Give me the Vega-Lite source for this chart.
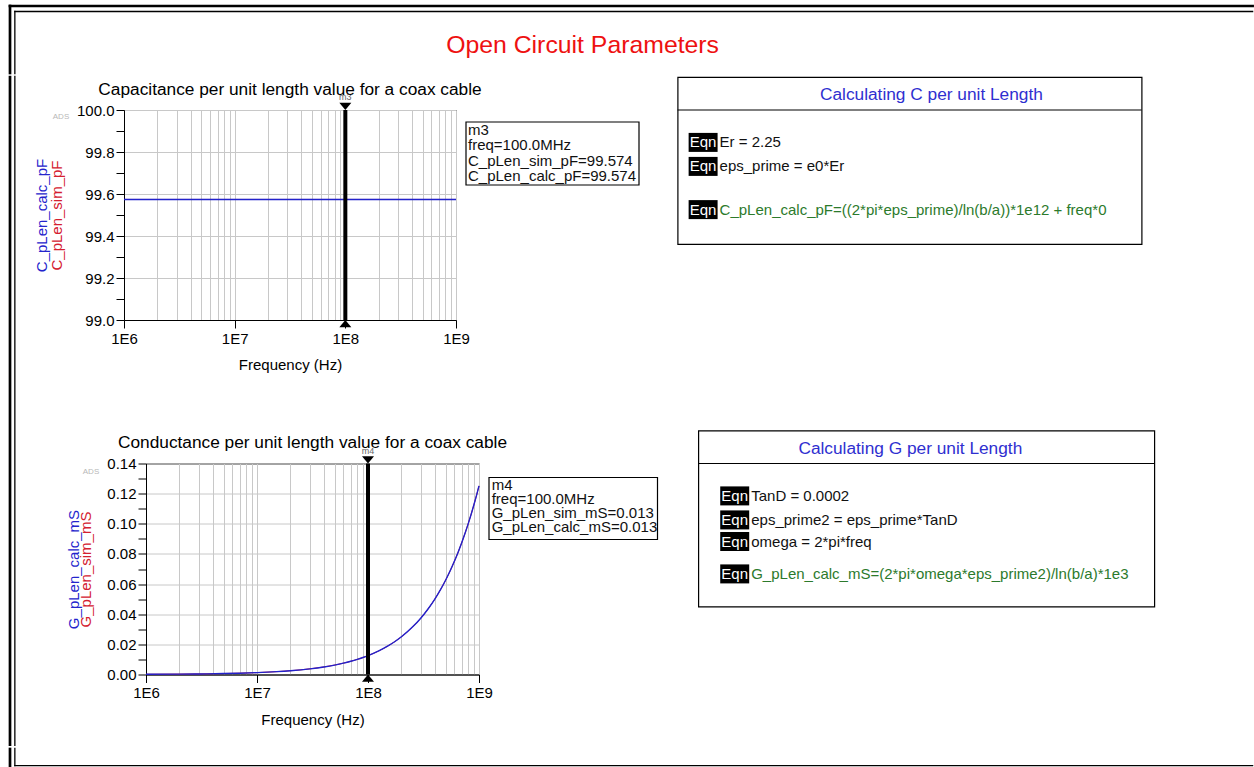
{
  "$schema": "https://vega.github.io/schema/vega-lite/v6.json",
  "background": "white",
  "padding": {"left": 8, "top": 4, "right": 0, "bottom": 0},
  "config": {
    "font": "Liberation Sans",
    "view": {"stroke": null},
    "axis": {"labelFont": "Liberation Sans", "titleFont": "Liberation Sans", "labelFontSize": 15, "titleFontSize": 15, "titleFontWeight": "normal", "labelColor": "black", "titleColor": "black", "domainColor": "black", "tickColor": "black", "gridColor": "#c8c8c8", "gridWidth": 1, "labelFlush": false, "labelOverlap": false, "tickSize": 8},
    "title": {"font": "Liberation Sans", "fontSize": 17.3, "fontWeight": "normal", "color": "black"},
    "text": {"font": "Liberation Sans"}
  },
  "datasets": {
    "cap": [
      {"freq": 1000000, "C_pLen_sim_pF": 99.574, "C_pLen_calc_pF": 99.574},
      {"freq": 3000000, "C_pLen_sim_pF": 99.574, "C_pLen_calc_pF": 99.574},
      {"freq": 10000000, "C_pLen_sim_pF": 99.574, "C_pLen_calc_pF": 99.574},
      {"freq": 30000000, "C_pLen_sim_pF": 99.574, "C_pLen_calc_pF": 99.574},
      {"freq": 100000000, "C_pLen_sim_pF": 99.574, "C_pLen_calc_pF": 99.574},
      {"freq": 300000000, "C_pLen_sim_pF": 99.574, "C_pLen_calc_pF": 99.574},
      {"freq": 1000000000, "C_pLen_sim_pF": 99.574, "C_pLen_calc_pF": 99.574}
    ],
    "cond": [
      {"freq": 1000000, "G_pLen_sim_mS": 0.000125, "G_pLen_calc_mS": 0.000125},
      {"freq": 2000000, "G_pLen_sim_mS": 0.00025, "G_pLen_calc_mS": 0.00025},
      {"freq": 3000000, "G_pLen_sim_mS": 0.000375, "G_pLen_calc_mS": 0.000375},
      {"freq": 5000000, "G_pLen_sim_mS": 0.000626, "G_pLen_calc_mS": 0.000626},
      {"freq": 7000000, "G_pLen_sim_mS": 0.000876, "G_pLen_calc_mS": 0.000876},
      {"freq": 10000000, "G_pLen_sim_mS": 0.001251, "G_pLen_calc_mS": 0.001251},
      {"freq": 15000000, "G_pLen_sim_mS": 0.001877, "G_pLen_calc_mS": 0.001877},
      {"freq": 20000000, "G_pLen_sim_mS": 0.002503, "G_pLen_calc_mS": 0.002503},
      {"freq": 30000000, "G_pLen_sim_mS": 0.003754, "G_pLen_calc_mS": 0.003754},
      {"freq": 40000000, "G_pLen_sim_mS": 0.005005, "G_pLen_calc_mS": 0.005005},
      {"freq": 50000000, "G_pLen_sim_mS": 0.006257, "G_pLen_calc_mS": 0.006257},
      {"freq": 60000000, "G_pLen_sim_mS": 0.007508, "G_pLen_calc_mS": 0.007508},
      {"freq": 70000000, "G_pLen_sim_mS": 0.008759, "G_pLen_calc_mS": 0.008759},
      {"freq": 80000000, "G_pLen_sim_mS": 0.01001, "G_pLen_calc_mS": 0.01001},
      {"freq": 90000000, "G_pLen_sim_mS": 0.011262, "G_pLen_calc_mS": 0.011262},
      {"freq": 100000000, "G_pLen_sim_mS": 0.012513, "G_pLen_calc_mS": 0.012513},
      {"freq": 125000000, "G_pLen_sim_mS": 0.015641, "G_pLen_calc_mS": 0.015641},
      {"freq": 150000000, "G_pLen_sim_mS": 0.01877, "G_pLen_calc_mS": 0.01877},
      {"freq": 175000000, "G_pLen_sim_mS": 0.021898, "G_pLen_calc_mS": 0.021898},
      {"freq": 200000000, "G_pLen_sim_mS": 0.025026, "G_pLen_calc_mS": 0.025026},
      {"freq": 250000000, "G_pLen_sim_mS": 0.031283, "G_pLen_calc_mS": 0.031283},
      {"freq": 300000000, "G_pLen_sim_mS": 0.037539, "G_pLen_calc_mS": 0.037539},
      {"freq": 350000000, "G_pLen_sim_mS": 0.043796, "G_pLen_calc_mS": 0.043796},
      {"freq": 400000000, "G_pLen_sim_mS": 0.050052, "G_pLen_calc_mS": 0.050052},
      {"freq": 450000000, "G_pLen_sim_mS": 0.056309, "G_pLen_calc_mS": 0.056309},
      {"freq": 500000000, "G_pLen_sim_mS": 0.062565, "G_pLen_calc_mS": 0.062565},
      {"freq": 550000000, "G_pLen_sim_mS": 0.068822, "G_pLen_calc_mS": 0.068822},
      {"freq": 600000000, "G_pLen_sim_mS": 0.075078, "G_pLen_calc_mS": 0.075078},
      {"freq": 650000000, "G_pLen_sim_mS": 0.081335, "G_pLen_calc_mS": 0.081335},
      {"freq": 700000000, "G_pLen_sim_mS": 0.087591, "G_pLen_calc_mS": 0.087591},
      {"freq": 750000000, "G_pLen_sim_mS": 0.093848, "G_pLen_calc_mS": 0.093848},
      {"freq": 800000000, "G_pLen_sim_mS": 0.100104, "G_pLen_calc_mS": 0.100104},
      {"freq": 850000000, "G_pLen_sim_mS": 0.106361, "G_pLen_calc_mS": 0.106361},
      {"freq": 900000000, "G_pLen_sim_mS": 0.112617, "G_pLen_calc_mS": 0.112617},
      {"freq": 950000000, "G_pLen_sim_mS": 0.118874, "G_pLen_calc_mS": 0.118874},
      {"freq": 1000000000, "G_pLen_sim_mS": 0.12513, "G_pLen_calc_mS": 0.12513}
    ],
    "eqnC": [
      {"line": 1, "expr": "Er = 2.25", "kind": "definition"},
      {"line": 2, "expr": "eps_prime = e0*Er", "kind": "definition"},
      {"line": 3.8, "expr": "C_pLen_calc_pF=((2*pi*eps_prime)/ln(b/a))*1e12 + freq*0", "kind": "result"}
    ],
    "eqnG": [
      {"line": 1, "expr": "TanD = 0.0002", "kind": "definition"},
      {"line": 2, "expr": "eps_prime2 = eps_prime*TanD", "kind": "definition"},
      {"line": 2.9, "expr": "omega = 2*pi*freq", "kind": "definition"},
      {"line": 4.25, "expr": "G_pLen_calc_mS=(2*pi*omega*eps_prime2)/ln(b/a)*1e3", "kind": "result"}
    ],
    "mk3": [{"marker": "m3", "freq": 100000000, "readout": "m3\nfreq=100.0MHz\nC_pLen_sim_pF=99.574\nC_pLen_calc_pF=99.574"}],
    "mk4": [{"marker": "m4", "freq": 100000000, "readout": "m4\nfreq=100.0MHz\nG_pLen_sim_mS=0.013\nG_pLen_calc_mS=0.013"}],
    "one": [{"wm": "ADS"}]
  },
  "spacing": 0,
  "vconcat": [
    {
      "width": 1242.6, "height": 67,
      "layer": [
        {"data": {"name": "one"}, "mark": {"type": "rule", "color": "black", "strokeWidth": 2.7, "strokeCap": "square"},
         "encoding": {"y": {"datum": 1, "type": "quantitative", "scale": {"domain": [0, 1], "nice": false, "zero": false}, "axis": null}}},
        {"data": {"name": "one"}, "mark": {"type": "rule", "color": "black", "strokeWidth": 2.7, "strokeCap": "square"},
         "encoding": {"x": {"datum": 0, "type": "quantitative", "scale": {"domain": [0, 1], "nice": false, "zero": false}, "axis": null}}},
        {"data": {"name": "one"}, "mark": {"type": "rule", "color": "black", "strokeWidth": 1.3, "strokeCap": "square"},
         "encoding": {"x": {"datum": 0.0039, "type": "quantitative", "scale": {"domain": [0, 1], "nice": false, "zero": false}, "axis": null},
                      "x2": {"datum": 1},
                      "y": {"datum": 0.918, "type": "quantitative", "scale": {"domain": [0, 1], "nice": false, "zero": false}, "axis": null}}},
        {"data": {"name": "one"}, "mark": {"type": "rule", "color": "black", "strokeWidth": 1.3, "strokeCap": "square"},
         "encoding": {"x": {"datum": 0.0039, "type": "quantitative", "scale": {"domain": [0, 1], "nice": false, "zero": false}, "axis": null},
                      "y": {"datum": 0.918, "type": "quantitative", "scale": {"domain": [0, 1], "nice": false, "zero": false}, "axis": null},
                      "y2": {"datum": -0.0104}}},
        {"data": {"values": [{"title": "Open Circuit Parameters"}]}, "mark": {"type": "text", "fontSize": 24.8, "color": "#ee1111", "align": "center", "baseline": "middle"},
         "encoding": {"text": {"field": "title"},
                      "x": {"datum": 0.4608, "type": "quantitative", "scale": {"domain": [0, 1], "nice": false, "zero": false}, "axis": null},
                      "y": {"datum": 0.3963, "type": "quantitative", "scale": {"domain": [0, 1], "nice": false, "zero": false}, "axis": null}}}
      ]
    },
    {
      "spacing": 0,
      "hconcat": [
        {
          "width": 21, "height": 667.6,
          "layer": [
            {"data": {"name": "one"}, "mark": {"type": "rule", "color": "black", "strokeWidth": 2.7, "strokeCap": "square"},
             "encoding": {"x": {"datum": 0, "type": "quantitative", "scale": {"domain": [0, 1], "nice": false, "zero": false}, "axis": null}}},
            {"data": {"name": "one"}, "mark": {"type": "rule", "color": "black", "strokeWidth": 1.3, "strokeCap": "square"},
             "encoding": {"x": {"datum": 0.231, "type": "quantitative", "scale": {"domain": [0, 1], "nice": false, "zero": false}, "axis": null},
                          "y": {"datum": 1.00105, "type": "quantitative", "scale": {"domain": [0, 1], "nice": false, "zero": false}, "axis": null},
                          "y2": {"datum": -0.00105}}}
          ]
        },
        {
          "spacing": 56.5,
          "vconcat": [
            {
              "spacing": 0,
              "hconcat": [
                {"width": 1.2, "height": 1, "data": {"values": []}, "mark": "text", "encoding": {}},
                {
                  "spacing": 33.6,
                  "hconcat": [
                    {
                      "spacing": 0,
                      "vconcat": [
                        {"width": 1, "height": 2.3, "data": {"values": []}, "mark": "text", "encoding": {}},
                        {
                          "width": 332, "height": 210,
                          "view": {"stroke": "black"},
                          "title": {"text": "Capacitance per unit length value for a coax cable", "frame": "group", "anchor": "middle", "baseline": "alphabetic", "offset": -19.1},
                          "resolve": {"axis": {"y": "independent"}},
                          "layer": [
                            {
                              "data": {"name": "cap"},
                              "mark": {"type": "line", "color": "#d42030", "strokeWidth": 1},
                              "encoding": {
                                "x": {"field": "freq", "type": "quantitative", "scale": {"type": "log", "domain": [1000000, 1000000000], "nice": false},
                                      "axis": {"values": [1000000,2000000,3000000,4000000,5000000,6000000,7000000,8000000,9000000,10000000,20000000,30000000,40000000,50000000,60000000,70000000,80000000,90000000,100000000,200000000,300000000,400000000,500000000,600000000,700000000,800000000,900000000,1000000000],
                                               "labelExpr": "abs(log(datum.value)/LN10 - round(log(datum.value)/LN10)) < 0.001 ? '1E' + round(log(datum.value)/LN10) : ''",
                                               "tickOpacity": {"condition": {"test": "abs(log(datum.value)/LN10 - round(log(datum.value)/LN10)) < 0.001", "value": 1}, "value": 0},
                                               "grid": true, "title": "Frequency (Hz)", "labelPadding": 3, "titlePadding": 11.5}},
                                "y": {"field": "C_pLen_sim_pF", "type": "quantitative", "scale": {"domain": [99, 100], "nice": false, "zero": false},
                                      "axis": {"orient": "left", "labels": false, "ticks": false, "domain": false, "grid": false, "title": "C_pLen_sim_pF", "titleColor": "#d42030", "titleAngle": 270, "titleX": -60, "titleY": 105, "titleAlign": "center", "titleBaseline": "bottom"}}
                              }
                            },
                            {
                              "data": {"name": "cap"},
                              "mark": {"type": "line", "color": "#2222cc", "strokeWidth": 1.4},
                              "encoding": {
                                "x": {"field": "freq", "type": "quantitative", "scale": {"type": "log", "domain": [1000000, 1000000000], "nice": false}},
                                "y": {"field": "C_pLen_calc_pF", "type": "quantitative", "scale": {"domain": [99, 100], "nice": false, "zero": false},
                                      "axis": {"orient": "left", "values": [99, 99.1, 99.2, 99.3, 99.4, 99.5, 99.6, 99.7, 99.8, 99.9, 100],
                                               "labelExpr": "round(datum.value*10) % 2 == 0 ? format(datum.value, '.1f') : ''",
                                               "grid": true, "gridOpacity": {"condition": {"test": "round(datum.value*10) % 2 == 1", "value": 0}, "value": 1},
                                               "labelPadding": 2,
                                               "title": "C_pLen_calc_pF", "titleColor": "#2424cc", "titleAngle": 270, "titleX": -75, "titleY": 105, "titleAlign": "center", "titleBaseline": "bottom"}}
                              }
                            },
                            {
                              "data": {"name": "mk3"},
                              "mark": {"type": "rule", "color": "black", "strokeWidth": 4},
                              "encoding": {"x": {"field": "freq", "type": "quantitative", "scale": {"type": "log", "domain": [1000000, 1000000000], "nice": false}}}
                            },
                            {
                              "data": {"name": "mk3"},
                              "mark": {"type": "point", "shape": "M-1,-1.2L1,-1.2L0,0Z", "filled": true, "color": "black", "opacity": 1, "size": 144, "strokeWidth": 0},
                              "encoding": {"x": {"field": "freq", "type": "quantitative", "scale": {"type": "log", "domain": [1000000, 1000000000], "nice": false}},
                                           "y": {"datum": 100, "type": "quantitative", "scale": {"domain": [99, 100], "nice": false, "zero": false}, "axis": null}}
                            },
                            {
                              "data": {"name": "mk3"},
                              "mark": {"type": "point", "shape": "M-1,1.2L1,1.2L0,0Z", "filled": true, "color": "black", "opacity": 1, "size": 144, "strokeWidth": 0},
                              "encoding": {"x": {"field": "freq", "type": "quantitative", "scale": {"type": "log", "domain": [1000000, 1000000000], "nice": false}},
                                           "y": {"datum": 99, "type": "quantitative", "scale": {"domain": [99, 100], "nice": false, "zero": false}, "axis": null}}
                            },
                            {
                              "data": {"name": "mk3"},
                              "mark": {"type": "text", "fontSize": 9, "color": "#666666", "dy": -13, "baseline": "middle", "align": "center"},
                              "encoding": {"text": {"field": "marker"},
                                           "x": {"field": "freq", "type": "quantitative", "scale": {"type": "log", "domain": [1000000, 1000000000], "nice": false}},
                                           "y": {"datum": 100, "type": "quantitative", "scale": {"domain": [99, 100], "nice": false, "zero": false}, "axis": null}}
                            },
                            {
                              "data": {"name": "mk3"},
                              "mark": {"type": "point", "shape": "M1,1.2L18.3,1.2L18.3,7.5L1,7.5Z", "filled": false, "stroke": "black", "strokeWidth": 1.2, "opacity": 1, "size": 400},
                              "encoding": {"x": {"datum": 1000000000, "type": "quantitative", "scale": {"type": "log", "domain": [1000000, 1000000000], "nice": false}},
                                           "y": {"datum": 100, "type": "quantitative", "scale": {"domain": [99, 100], "nice": false, "zero": false}, "axis": null}}
                            },
                            {
                              "data": {"name": "mk3"},
                              "mark": {"type": "text", "fontSize": 15, "color": "#111111", "align": "left", "baseline": "alphabetic", "lineBreak": "\n", "lineHeight": 15.5, "dx": 12, "dy": 24.9},
                              "encoding": {"text": {"field": "readout"},
                                           "x": {"datum": 1000000000, "type": "quantitative", "scale": {"type": "log", "domain": [1000000, 1000000000], "nice": false}},
                                           "y": {"datum": 100, "type": "quantitative", "scale": {"domain": [99, 100], "nice": false, "zero": false}, "axis": null}}
                            },
                            {
                              "data": {"name": "one"},
                              "mark": {"type": "text", "fontSize": 8, "color": "#b8b8b8", "dx": -63, "dy": 7, "baseline": "middle", "align": "center"},
                              "encoding": {"text": {"field": "wm"},
                                           "x": {"datum": 1000000, "type": "quantitative", "scale": {"type": "log", "domain": [1000000, 1000000000], "nice": false}},
                                           "y": {"datum": 100, "type": "quantitative", "scale": {"domain": [99, 100], "nice": false, "zero": false}, "axis": null}}
                            }
                          ]
                        }
                      ]
                    },
                    {
                      "width": 464, "height": 167,
                      "view": {"stroke": "black", "strokeWidth": 1.2},
                      "layer": [
                        {"data": {"values": [{"header": "Calculating C per unit Length"}]},
                         "mark": {"type": "text", "fontSize": 17.3, "color": "#2f2fd0", "align": "center", "baseline": "middle"},
                         "encoding": {"text": {"field": "header"},
                                      "x": {"datum": 54.7, "type": "quantitative", "scale": {"domain": [0, 100], "nice": false, "zero": false}, "axis": null},
                                      "y": {"datum": -0.975, "type": "quantitative", "scale": {"domain": [-1.725, 5.233], "nice": false, "zero": false, "reverse": true}, "axis": null}}},
                        {"data": {"name": "one"},
                         "mark": {"type": "rule", "color": "black", "strokeWidth": 1.2},
                         "encoding": {"y": {"datum": -0.35, "type": "quantitative", "scale": {"domain": [-1.725, 5.233], "nice": false, "zero": false, "reverse": true}, "axis": null}}},
                        {"data": {"name": "eqnC"},
                         "mark": {"type": "point", "shape": "M-3.26,-1L-0.21,-1L-0.21,1L-3.26,1Z", "filled": true, "color": "black", "opacity": 1, "size": 361, "strokeWidth": 0},
                         "encoding": {"x": {"datum": 9.05, "type": "quantitative", "scale": {"domain": [0, 100], "nice": false, "zero": false}, "axis": null},
                                      "y": {"field": "line", "type": "quantitative", "scale": {"domain": [-1.725, 5.233], "nice": false, "zero": false, "reverse": true}, "axis": null}}},
                        {"data": {"name": "eqnC"},
                         "mark": {"type": "text", "text": "Eqn", "fontSize": 15, "color": "white", "align": "center", "baseline": "middle", "dx": -16.5},
                         "encoding": {"x": {"datum": 9.05, "type": "quantitative", "scale": {"domain": [0, 100], "nice": false, "zero": false}, "axis": null},
                                      "y": {"field": "line", "type": "quantitative", "scale": {"domain": [-1.725, 5.233], "nice": false, "zero": false, "reverse": true}, "axis": null}}},
                        {"data": {"name": "eqnC"},
                         "mark": {"type": "text", "fontSize": 15, "align": "left", "baseline": "middle"},
                         "encoding": {"text": {"field": "expr"},
                                      "color": {"field": "kind", "type": "nominal", "scale": {"domain": ["definition", "result"], "range": ["#111111", "#2c7a2c"]}, "legend": null},
                                      "x": {"datum": 9.05, "type": "quantitative", "scale": {"domain": [0, 100], "nice": false, "zero": false}, "axis": null},
                                      "y": {"field": "line", "type": "quantitative", "scale": {"domain": [-1.725, 5.233], "nice": false, "zero": false, "reverse": true}, "axis": null}}}
                      ]
                    }
                  ]
                }
              ]
            },
            {
              "spacing": 0,
              "hconcat": [
                {"width": 34.7, "height": 1, "data": {"values": []}, "mark": "text", "encoding": {}},
                {
                  "spacing": 35.3,
                  "hconcat": [
                    {
                      "spacing": 0,
                      "vconcat": [
                        {"width": 1, "height": 2.5, "data": {"values": []}, "mark": "text", "encoding": {}},
                        {
                          "width": 333, "height": 211,
                          "view": {"stroke": "black"},
                          "title": {"text": "Conductance per unit length value for a coax cable", "frame": "group", "anchor": "middle", "baseline": "alphabetic", "offset": -19.1},
                          "resolve": {"axis": {"y": "independent"}},
                          "layer": [
                            {
                              "data": {"name": "cond"},
                              "mark": {"type": "line", "color": "#d42030", "strokeWidth": 1, "interpolate": "monotone"},
                              "encoding": {
                                "x": {"field": "freq", "type": "quantitative", "scale": {"type": "log", "domain": [1000000, 1000000000], "nice": false},
                                      "axis": {"values": [1000000,2000000,3000000,4000000,5000000,6000000,7000000,8000000,9000000,10000000,20000000,30000000,40000000,50000000,60000000,70000000,80000000,90000000,100000000,200000000,300000000,400000000,500000000,600000000,700000000,800000000,900000000,1000000000],
                                               "labelExpr": "abs(log(datum.value)/LN10 - round(log(datum.value)/LN10)) < 0.001 ? '1E' + round(log(datum.value)/LN10) : ''",
                                               "tickOpacity": {"condition": {"test": "abs(log(datum.value)/LN10 - round(log(datum.value)/LN10)) < 0.001", "value": 1}, "value": 0},
                                               "grid": true, "title": "Frequency (Hz)", "labelPadding": 3, "titlePadding": 11.5}},
                                "y": {"field": "G_pLen_sim_mS", "type": "quantitative", "scale": {"domain": [0, 0.14], "nice": false, "zero": false},
                                      "axis": {"orient": "left", "labels": false, "ticks": false, "domain": false, "grid": false, "title": "G_pLen_sim_mS", "titleColor": "#d42030", "titleAngle": 270, "titleX": -52.5, "titleY": 105.5, "titleAlign": "center", "titleBaseline": "bottom"}}
                              }
                            },
                            {
                              "data": {"name": "cond"},
                              "mark": {"type": "line", "color": "#2222cc", "strokeWidth": 1.4, "interpolate": "monotone"},
                              "encoding": {
                                "x": {"field": "freq", "type": "quantitative", "scale": {"type": "log", "domain": [1000000, 1000000000], "nice": false}},
                                "y": {"field": "G_pLen_calc_mS", "type": "quantitative", "scale": {"domain": [0, 0.14], "nice": false, "zero": false},
                                      "axis": {"orient": "left", "values": [0, 0.01, 0.02, 0.03, 0.04, 0.05, 0.06, 0.07, 0.08, 0.09, 0.1, 0.11, 0.12, 0.13, 0.14],
                                               "labelExpr": "round(datum.value*100) % 2 == 0 ? format(datum.value, '.2f') : ''",
                                               "grid": true, "gridOpacity": {"condition": {"test": "round(datum.value*100) % 2 == 1", "value": 0}, "value": 1},
                                               "labelPadding": 2,
                                               "title": "G_pLen_calc_mS", "titleColor": "#2424cc", "titleAngle": 270, "titleX": -64.5, "titleY": 105.5, "titleAlign": "center", "titleBaseline": "bottom"}}
                              }
                            },
                            {
                              "data": {"name": "mk4"},
                              "mark": {"type": "rule", "color": "black", "strokeWidth": 4},
                              "encoding": {"x": {"field": "freq", "type": "quantitative", "scale": {"type": "log", "domain": [1000000, 1000000000], "nice": false}}}
                            },
                            {
                              "data": {"name": "mk4"},
                              "mark": {"type": "point", "shape": "M-1,-1.2L1,-1.2L0,0Z", "filled": true, "color": "black", "opacity": 1, "size": 144, "strokeWidth": 0},
                              "encoding": {"x": {"field": "freq", "type": "quantitative", "scale": {"type": "log", "domain": [1000000, 1000000000], "nice": false}},
                                           "y": {"datum": 0.14, "type": "quantitative", "scale": {"domain": [0, 0.14], "nice": false, "zero": false}, "axis": null}}
                            },
                            {
                              "data": {"name": "mk4"},
                              "mark": {"type": "point", "shape": "M-1,1.2L1,1.2L0,0Z", "filled": true, "color": "black", "opacity": 1, "size": 144, "strokeWidth": 0},
                              "encoding": {"x": {"field": "freq", "type": "quantitative", "scale": {"type": "log", "domain": [1000000, 1000000000], "nice": false}},
                                           "y": {"datum": 0, "type": "quantitative", "scale": {"domain": [0, 0.14], "nice": false, "zero": false}, "axis": null}}
                            },
                            {
                              "data": {"name": "mk4"},
                              "mark": {"type": "text", "fontSize": 9, "color": "#666666", "dy": -13, "baseline": "middle", "align": "center"},
                              "encoding": {"text": {"field": "marker"},
                                           "x": {"field": "freq", "type": "quantitative", "scale": {"type": "log", "domain": [1000000, 1000000000], "nice": false}},
                                           "y": {"datum": 0.14, "type": "quantitative", "scale": {"domain": [0, 0.14], "nice": false, "zero": false}, "axis": null}}
                            },
                            {
                              "data": {"name": "mk4"},
                              "mark": {"type": "point", "shape": "M1,1.4L17.85,1.4L17.85,7.6L1,7.6Z", "filled": false, "stroke": "black", "strokeWidth": 1.2, "opacity": 1, "size": 400},
                              "encoding": {"x": {"datum": 1000000000, "type": "quantitative", "scale": {"type": "log", "domain": [1000000, 1000000000], "nice": false}},
                                           "y": {"datum": 0.14, "type": "quantitative", "scale": {"domain": [0, 0.14], "nice": false, "zero": false}, "axis": null}}
                            },
                            {
                              "data": {"name": "mk4"},
                              "mark": {"type": "text", "fontSize": 15, "color": "#111111", "align": "left", "baseline": "alphabetic", "lineBreak": "\n", "lineHeight": 14, "dx": 12.7, "dy": 26},
                              "encoding": {"text": {"field": "readout"},
                                           "x": {"datum": 1000000000, "type": "quantitative", "scale": {"type": "log", "domain": [1000000, 1000000000], "nice": false}},
                                           "y": {"datum": 0.14, "type": "quantitative", "scale": {"domain": [0, 0.14], "nice": false, "zero": false}, "axis": null}}
                            },
                            {
                              "data": {"name": "one"},
                              "mark": {"type": "text", "fontSize": 8, "color": "#b8b8b8", "dx": -55, "dy": 8, "baseline": "middle", "align": "center"},
                              "encoding": {"text": {"field": "wm"},
                                           "x": {"datum": 1000000, "type": "quantitative", "scale": {"type": "log", "domain": [1000000, 1000000000], "nice": false}},
                                           "y": {"datum": 0.14, "type": "quantitative", "scale": {"domain": [0, 0.14], "nice": false, "zero": false}, "axis": null}}
                            }
                          ]
                        }
                      ]
                    },
                    {
                      "width": 456, "height": 176,
                      "view": {"stroke": "black", "strokeWidth": 1.2},
                      "layer": [
                        {"data": {"values": [{"header": "Calculating G per unit Length"}]},
                         "mark": {"type": "text", "fontSize": 17.3, "color": "#2f2fd0", "align": "center", "baseline": "middle"},
                         "encoding": {"text": {"field": "header"},
                                      "x": {"datum": 46.5, "type": "quantitative", "scale": {"domain": [0, 100], "nice": false, "zero": false}, "axis": null},
                                      "y": {"datum": -0.975, "type": "quantitative", "scale": {"domain": [-1.725, 5.608], "nice": false, "zero": false, "reverse": true}, "axis": null}}},
                        {"data": {"name": "one"},
                         "mark": {"type": "rule", "color": "black", "strokeWidth": 1.2},
                         "encoding": {"y": {"datum": -0.35, "type": "quantitative", "scale": {"domain": [-1.725, 5.608], "nice": false, "zero": false, "reverse": true}, "axis": null}}},
                        {"data": {"name": "eqnG"},
                         "mark": {"type": "point", "shape": "M-3.26,-1L-0.21,-1L-0.21,1L-3.26,1Z", "filled": true, "color": "black", "opacity": 1, "size": 361, "strokeWidth": 0},
                         "encoding": {"x": {"datum": 11.6, "type": "quantitative", "scale": {"domain": [0, 100], "nice": false, "zero": false}, "axis": null},
                                      "y": {"field": "line", "type": "quantitative", "scale": {"domain": [-1.725, 5.608], "nice": false, "zero": false, "reverse": true}, "axis": null}}},
                        {"data": {"name": "eqnG"},
                         "mark": {"type": "text", "text": "Eqn", "fontSize": 15, "color": "white", "align": "center", "baseline": "middle", "dx": -16.5},
                         "encoding": {"x": {"datum": 11.6, "type": "quantitative", "scale": {"domain": [0, 100], "nice": false, "zero": false}, "axis": null},
                                      "y": {"field": "line", "type": "quantitative", "scale": {"domain": [-1.725, 5.608], "nice": false, "zero": false, "reverse": true}, "axis": null}}},
                        {"data": {"name": "eqnG"},
                         "mark": {"type": "text", "fontSize": 15, "align": "left", "baseline": "middle"},
                         "encoding": {"text": {"field": "expr"},
                                      "color": {"field": "kind", "type": "nominal", "scale": {"domain": ["definition", "result"], "range": ["#111111", "#2c7a2c"]}, "legend": null},
                                      "x": {"datum": 11.6, "type": "quantitative", "scale": {"domain": [0, 100], "nice": false, "zero": false}, "axis": null},
                                      "y": {"field": "line", "type": "quantitative", "scale": {"domain": [-1.725, 5.608], "nice": false, "zero": false, "reverse": true}, "axis": null}}}
                      ]
                    }
                  ]
                }
              ]
            }
          ]
        }
      ]
    },
    {
      "width": 1242.6, "height": 20,
      "layer": [
        {"data": {"name": "one"}, "mark": {"type": "rule", "color": "black", "strokeWidth": 2.7, "strokeCap": "square"},
         "encoding": {"x": {"datum": 0, "type": "quantitative", "scale": {"domain": [0, 1], "nice": false, "zero": false}, "axis": null}}},
        {"data": {"name": "one"}, "mark": {"type": "rule", "color": "black", "strokeWidth": 2.7, "strokeCap": "square"},
         "encoding": {"y": {"datum": 0, "type": "quantitative", "scale": {"domain": [0, 1], "nice": false, "zero": false}, "axis": null}}},
        {"data": {"name": "one"}, "mark": {"type": "rule", "color": "black", "strokeWidth": 1.3, "strokeCap": "square"},
         "encoding": {"x": {"datum": 0.0039, "type": "quantitative", "scale": {"domain": [0, 1], "nice": false, "zero": false}, "axis": null},
                      "y": {"datum": 1.035, "type": "quantitative", "scale": {"domain": [0, 1], "nice": false, "zero": false}, "axis": null},
                      "y2": {"datum": 0.1675}}},
        {"data": {"name": "one"}, "mark": {"type": "rule", "color": "black", "strokeWidth": 1.3, "strokeCap": "square"},
         "encoding": {"x": {"datum": 0.0039, "type": "quantitative", "scale": {"domain": [0, 1], "nice": false, "zero": false}, "axis": null},
                      "x2": {"datum": 1},
                      "y": {"datum": 0.1675, "type": "quantitative", "scale": {"domain": [0, 1], "nice": false, "zero": false}, "axis": null}}}
      ]
    }
  ]
}
